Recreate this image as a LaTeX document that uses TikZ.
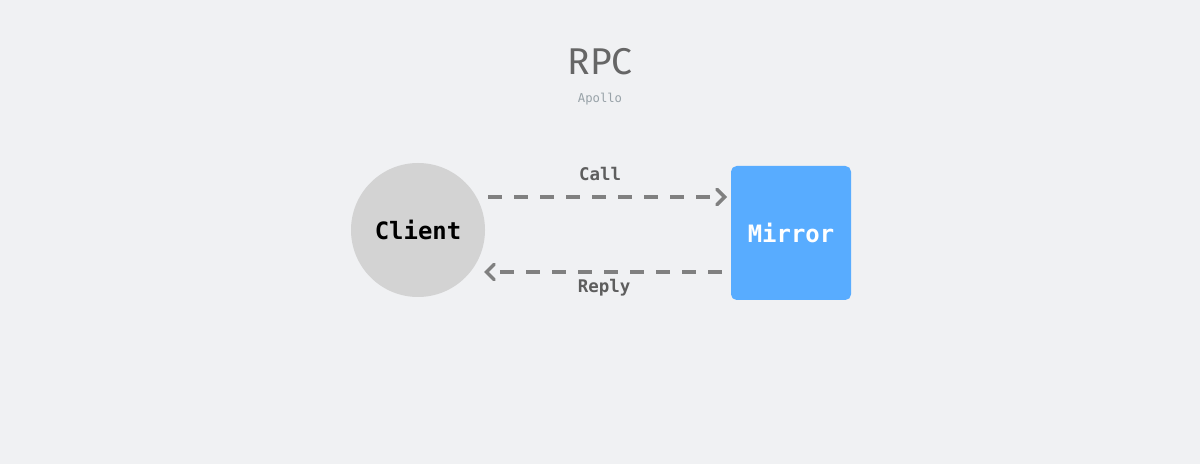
\documentclass[tikz,border=0pt]{standalone}
\usepackage{fontspec}
\setmainfont{Fira Sans}
\newfontfamily\monofont{DejaVu Sans Mono}
\usepackage{tikz}
\usetikzlibrary{arrows.meta}
\definecolor{bgcol}{HTML}{F0F1F3}
\definecolor{clientcol}{HTML}{D3D3D3}
\definecolor{mirrorcol}{HTML}{58ACFF}
\definecolor{linecol}{HTML}{808080}
\definecolor{titlecol}{HTML}{666666}
\definecolor{subcol}{HTML}{98A2A8}
\definecolor{labcol}{HTML}{5E5E5E}
\tikzset{
  msg/.style={draw=linecol, line width=2.4pt, dash pattern=on 10pt off 8.5pt,
    -{Straight Barb[length=5.5pt,width=11pt,line cap=round]}},
  msglabel/.style={font=\monofont\bfseries\fontsize{12.4}{14}\selectfont, text=labcol},
}
\begin{document}
\begin{tikzpicture}[x=0.025cm,y=-0.025cm]
\fill[bgcol] (0,0) rectangle (1200,464);
\useasboundingbox (0,0) rectangle (1200,464);

\node[text=titlecol, font=\fontsize{26.5}{30}\selectfont] (title) at (600,62) {RPC};
\node[text=subcol, font=\monofont\fontsize{8.7}{10}\selectfont] (subtitle) at (600,99.5) {Apollo};

\node[circle, fill=clientcol, minimum size=134*0.025cm, inner sep=0pt,
  font=\monofont\bfseries\fontsize{17}{20}\selectfont] (client) at (418,230) {Client};
\node[fill=mirrorcol, rounded corners=4pt, minimum width=120*0.025cm, minimum height=134*0.025cm,
  text=white, font=\monofont\bfseries\fontsize{17}{20}\selectfont] (mirror) at (791,233) {Mirror};

\coordinate (callA) at (488,197);
\coordinate (callB) at (727,197);
\coordinate (replyA) at (722,272);
\coordinate (replyB) at (484,272);
\draw[msg] (callA) -- (callB);
\draw[msg] (replyA) -- (replyB);
\node[msglabel] (call) at (600,174) {Call};
\node[msglabel] (reply) at (604,287.5) {Reply};
\end{tikzpicture}
\end{document}
